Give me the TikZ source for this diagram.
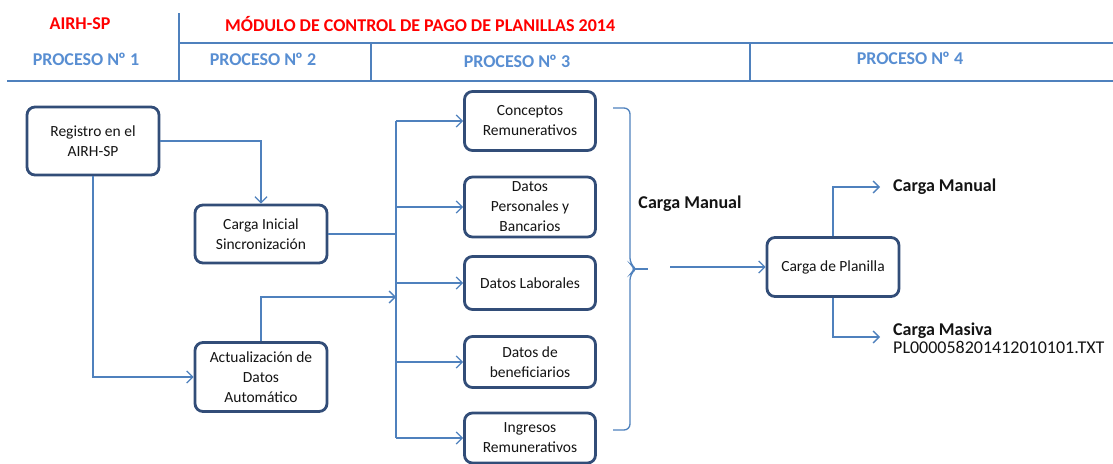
\documentclass[tikz,border=0pt]{standalone}
\usepackage{fontspec}
\setmainfont{Carlito}
\usepackage{tikz}
\usetikzlibrary{arrows.meta,%
                positioning}
\definecolor{azul}{RGB}{79,129,189}
\definecolor{borde}{RGB}{50,77,120}
\definecolor{titulo}{RGB}{88,142,210}
\definecolor{texto}{RGB}{20,20,20}

\begin{document}
\begin{tikzpicture}[x = 1pt, y = -1pt, >={Straight Barb[length=6pt,width=12pt]}]
  \tikzstyle{every node} = [inner sep = 1pt]
  \tikzstyle{caja} = [draw = borde, line width = 2.8pt,
                      rounded corners = 8pt, fill = white,
                      align = center, text = texto,
                      minimum width = 132pt,
                      font = \fontsize{15.5}{20}\selectfont]
  \tikzstyle{rojo} = [text = red, font = \bfseries\fontsize{18}{22}\selectfont]
  \tikzstyle{proceso} = [text = titulo, font = \bfseries\fontsize{18}{22}\selectfont]
  \tikzstyle{etiqueta} = [text = texto, font = \bfseries\fontsize{18}{22}\selectfont]
  \tikzstyle{archivo} = [text = texto, font = \fontsize{18}{22}\selectfont]
\tikzset{tabla/.style={draw = azul, line width = 1.8pt}}
\tikzset{conector/.style={draw = azul, line width = 1.3pt}}
\tikzset{flecha/.style={conector, ->}}
\useasboundingbox (0,0) rectangle (1113,463);

\draw[tabla] (179,13) -- (179,81);
\draw[tabla] (179,43) -- (1113,43);
\draw[tabla] (7,81) -- (1113,81);
\draw[tabla] (371,43) -- (371,81);
\draw[tabla] (750,43) -- (750,81);

\node[rojo] (airh) at (80,24) {AIRH-SP};
\node[rojo, anchor = west] (modulo) at (224,24) {MÓDULO DE CONTROL DE PAGO DE PLANILLAS 2014};
\node[proceso] (p1) at (86,59) {PROCESO N\kern-1ptº 1};
\node[proceso] (p2) at (263,59) {PROCESO N\kern-1ptº 2};
\node[proceso] (p3) at (517,61) {PROCESO N\kern-1ptº 3};
\node[proceso] (p4) at (910,58) {PROCESO N\kern-1ptº 4};

\node[caja, minimum height = 68pt] (registro) at (93,141) {Registro en el\\AIRH-SP};
\node[caja, minimum height = 58pt] (inicial) at (261,234) {Carga Inicial\\Sincronización};
\node[caja, minimum height = 69pt] (actual) at (261,377) {Actualización de\\Datos\\Automático};

\node[caja, minimum width = 131pt, minimum height = 59pt] (conceptos) at (530,121) {Conceptos\\Remunerativos};
\node[caja, minimum width = 131pt, minimum height = 60pt] (personales) at (530,207) {Datos\\Personales y\\Bancarios};
\node[caja, minimum width = 131pt, minimum height = 53pt] (laborales) at (530,283) {Datos Laborales};
\node[caja, minimum width = 131pt, minimum height = 51pt] (beneficiarios) at (530,362) {Datos de\\beneficiarios};
\node[caja, minimum width = 131pt, minimum height = 50pt] (ingresos) at (530,438) {Ingresos\\Remunerativos};

\node[etiqueta] (manual) at (690,204) {Carga Manual};
\node[caja, minimum height = 59pt] (planilla) at (833,267) {Carga de Planilla};

\node[etiqueta, anchor = west] (salida1) at (892,187) {Carga Manual};
\node[etiqueta, anchor = west] (salida2) at (892,331) {Carga Masiva};
\node[archivo, anchor = north west] (txt) at (salida2.south west) {PL000058201412010101.TXT};

\coordinate (b1) at (396,121);
\coordinate (b2) at (396,207);
\coordinate (b3) at (396,283);
\coordinate (b4) at (396,362);
\coordinate (b5) at (396,438);
\coordinate (ba) at (396,297);
\coordinate (cm) at (670,267);
\coordinate (alto) at (880,187);
\coordinate (bajo) at (880,337);

\draw[flecha] (registro.east) -| (inicial.north);
\draw[flecha] (registro.south) |- (actual.west);
\draw[conector] (inicial.east) -- (inicial.east -| b1);
\draw[flecha] (actual.north) |- (ba);
\draw[conector] (b1) -- (b5);
\draw[flecha] (b1) -- (conceptos);
\draw[flecha] (b2) -- (personales);
\draw[flecha] (b3) -- (laborales);
\draw[flecha] (b4) -- (beneficiarios);
\draw[flecha] (b5) -- (ingresos);

\draw[conector, rounded corners = 6pt] (613,108) -- (630,108) -- (630,264) -- (636,269) -- (630,274) -- (630,430) -- (613,430);
\draw[conector] (634,269) -- (648,269);
\draw[flecha] (cm) -- (planilla);
\draw[flecha] (planilla.north) |- (alto);
\draw[flecha] (planilla.south) |- (bajo);

\end{tikzpicture}
\end{document}
